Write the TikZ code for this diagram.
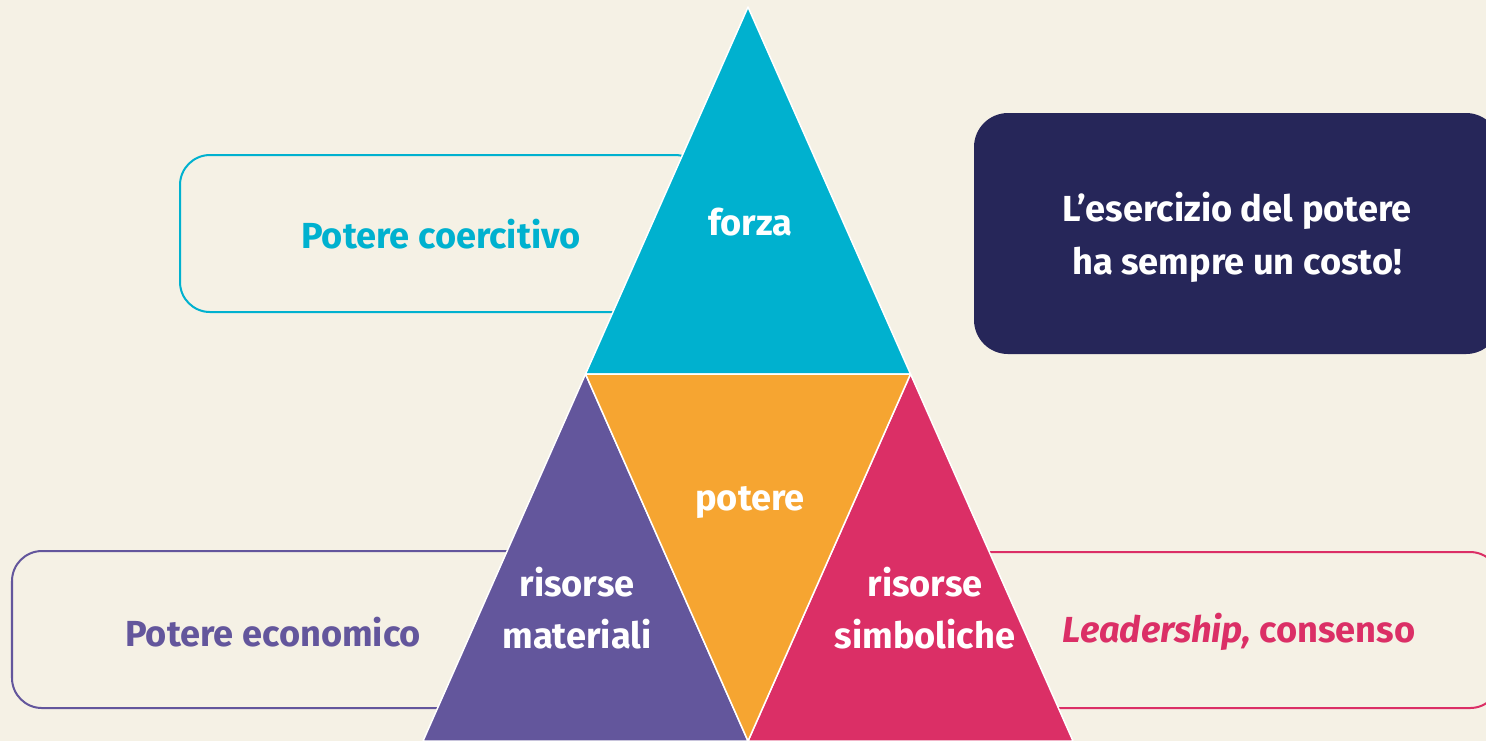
\documentclass[tikz,border=0pt]{standalone}
\usepackage{fontspec}
\setmainfont{Fira Sans}
\usepackage{tikz}
\usetikzlibrary{calc}

\definecolor{bgcream}{HTML}{F5F1E5}
\definecolor{forzacyan}{HTML}{00B1CF}
\definecolor{potereorange}{HTML}{F6A531}
\definecolor{matpurple}{HTML}{63569C}
\definecolor{simbpink}{HTML}{DB2F66}
\definecolor{costonavy}{HTML}{262659}

\tikzset{
 label box/.style={draw=#1,line width=0.02cm,rounded corners=0.3cm,fill=bgcream},
 piece/.style={fill=#1,draw=white,line width=0.015cm,line join=round},
 word/.style={text=white,font=\bfseries\fontsize{10.3}{15}\selectfont,align=center},
 boxword/.style={text=#1,font=\bfseries\fontsize{10.3}{15}\selectfont,align=center}
}

\begin{document}
\begin{tikzpicture}[x=0.01cm,y=-0.01cm]
 \useasboundingbox (0,0) rectangle (1486,741);
 \fill[bgcream] (0,0) rectangle (1486,741);

 \coordinate (Top) at (748,7);
 \coordinate (BL) at (423,741);
 \coordinate (BR) at (1073,741);
 \coordinate (ML) at ($(Top)!0.5!(BL)$);
 \coordinate (MR) at ($(Top)!0.5!(BR)$);
 \coordinate (MB) at ($(BL)!0.5!(BR)$);

 % Boxes behind the triangle
 \draw[label box=forzacyan] (180,155) rectangle (705,312);
 \draw[label box=matpurple] (12,551) rectangle (540,708);
 \draw[label box=simbpink] (960,552) rectangle (1500,708);
 \fill[costonavy,rounded corners=0.34cm] (974,113) rectangle (1500,354);

 % Triangle pieces
 \draw[piece=forzacyan] (Top) -- (MR) -- (ML) -- cycle;
 \draw[piece=matpurple] (ML) -- (MB) -- (BL) -- cycle;
 \draw[piece=simbpink] (MR) -- (BR) -- (MB) -- cycle;
 \draw[piece=potereorange] (ML) -- (MR) -- (MB) -- cycle;

 % Labels
 \node[word] (forza) at (750,222) {forza};
 \node[word] (potere) at (750,502) {potere};
 \node[word] (materiali) at (577,608) {risorse\\materiali};
 \node[word] (simboliche) at (925,608) {risorse\\simboliche};

 \node[boxword=forzacyan] (coercitivo) at (441,234) {Potere coercitivo};
 \node[boxword=matpurple] (economico) at (273,632) {Potere economico};
 \node[boxword=simbpink] (consenso) at (1239,632) {\textit{Leadership,} consenso};
 \node[word] (costo) at (1237,237) {L’esercizio del potere\\ha sempre un costo!};
\end{tikzpicture}
\end{document}
